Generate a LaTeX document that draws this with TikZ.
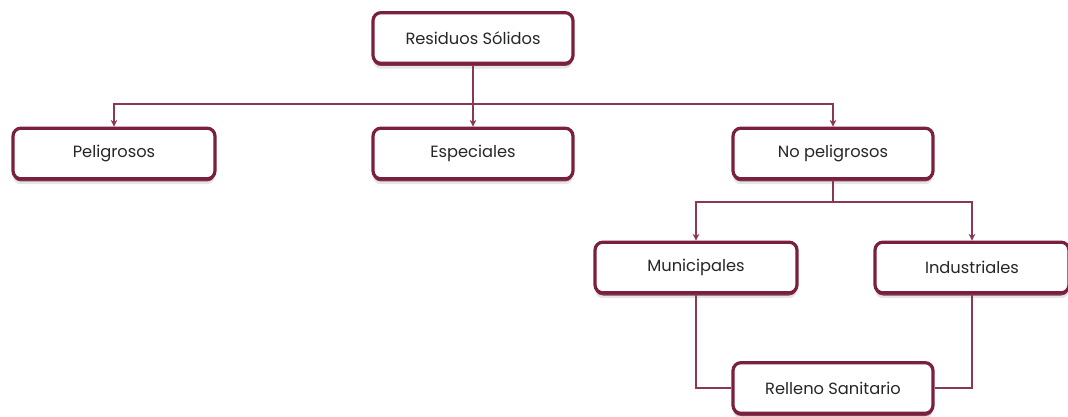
\documentclass[tikz,border=0pt]{standalone}
\usepackage{fontspec}
\setmainfont{Poppins}
\usepackage{tikz}
\usetikzlibrary{arrows.meta,shadows}
\definecolor{vino}{RGB}{122,31,61}
\definecolor{linea}{RGB}{140,55,85}

\begin{document}
\begin{tikzpicture}[x=0.75pt,y=-0.75pt,
		caja/.style={draw=vino, line width=2.4pt, fill=white, rounded corners=6pt,
			minimum width=#1*0.75pt, minimum height=38pt, inner sep=0pt,
			font=\fontsize{12.2}{14}\selectfont, text=black!85,
			general shadow={fill=vino, shadow yshift=-2pt},
			drop shadow={fill=black!40, opacity=0.25, shadow xshift=0pt, shadow yshift=-4pt}},
		caja/.default=200,
		enlace/.style={draw=linea, line width=1pt},
		flecha/.style={enlace, -{Stealth[length=5pt,width=5pt]}}]
		\useasboundingbox (0,0) rectangle (1068,417);
		
		\node[caja] (res) at (473, 38) {Residuos Sólidos};
		\node[caja=202] (pel) at (114, 153.5) {Peligrosos};
		\node[caja] (esp) at (473, 153.5) {Especiales};
		\node[caja] (nop) at (833, 153.5) {No peligrosos};
		\node[caja=202] (mun) at (696, 267.5) {Municipales};
		\node[caja=194] (ind) at (972, 267.5) {Industriales};
		\node[caja] (rel) at (833, 388) {Relleno Sanitario};
		
		\coordinate (bus1) at (473, 104);
		\coordinate (bus2) at (833, 202);
		
		\draw[flecha] (res.south) -- (esp.north);
		\draw[flecha] (bus1) -| (pel.north);
		\draw[flecha] (bus1) -| (nop.north);
		
		\draw[enlace] (nop.south) -- (bus2);
		\draw[flecha] (bus2) -| (mun.north);
		\draw[flecha] (bus2) -| (ind.north);
		
		\draw[enlace] (mun.south) |- (rel.west);
		\draw[enlace] (ind.south) |- (rel.east);
	\end{tikzpicture}
\end{document}
